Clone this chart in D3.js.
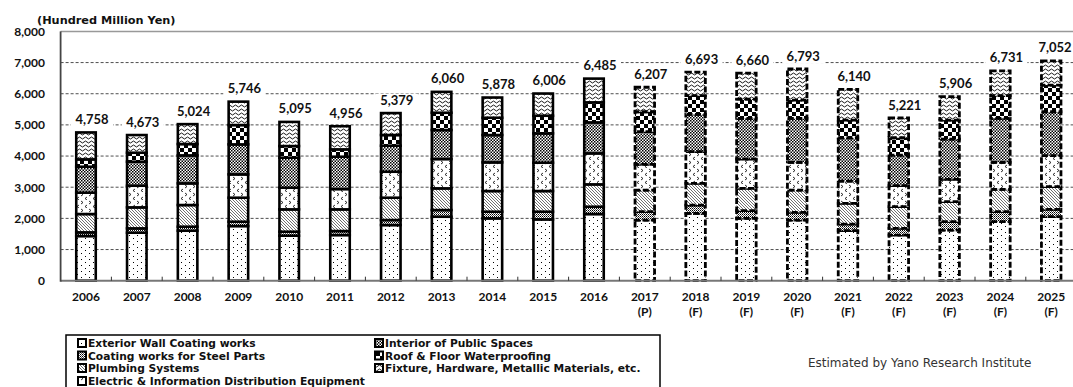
<!DOCTYPE html>
<html>
<head>
<meta charset="utf-8">
<script src="https://cdn.jsdelivr.net/npm/d3@7"></script>
<style>
  html, body { margin: 0; padding: 0; background: #fff; }
  svg { display: block; }
</style>
</head>
<body>
<svg id="chart" width="1073" height="387"></svg>
<script>
// ---- data ----
const years = ["2006","2007","2008","2009","2010","2011","2012","2013","2014","2015","2016","2017","2018","2019","2020","2021","2022","2023","2024","2025"];
const yearSuffix = ["","","","","","","","","","","","(P)","(F)","(F)","(F)","(F)","(F)","(F)","(F)","(F)"];
const seriesNames = [
  "Exterior Wall Coating works",
  "Coating works for Steel Parts",
  "Plumbing Systems",
  "Electric & Information Distribution Equipment",
  "Interior of Public Spaces",
  "Roof & Floor Waterproofing",
  "Fixture, Hardware, Metallic Materials, etc."
];
const exteriorWall = [1433,1540,1604,1754,1444,1465,1786,2053,2000,1968,2139,1947,2160,2000,1947,1604,1465,1626,1893,2053];
const steelParts   = [118,139,129,139,128,129,161,214,214,246,235,267,268,246,246,214,214,267,321,236];
const plumbing     = [588,674,695,770,717,695,716,696,663,663,717,695,695,717,716,663,695,642,716,727];
const electric     = [685,695,695,749,695,652,834,941,920,909,995,824,1016,941,888,717,674,716,867,995];
const interior     = [834,770,898,962,963,1038,835,930,877,941,994,1048,1198,1305,1412,1390,984,1294,1412,1411];
const roofFloor    = [235,289,364,621,374,235,342,556,556,567,642,641,599,620,588,567,556,610,727,856];
const fixture      = [865,567,639,751,774,742,705,670,648,712,763,785,757,831,996,985,633,751,795,774];
const totals       = [4758,4673,5024,5746,5095,4956,5379,6060,5878,6006,6485,6207,6693,6660,6793,6140,5221,5906,6731,7052];
const yTicks = [0,1000,2000,3000,4000,5000,6000,7000,8000];
const seriesValues = [exteriorWall, steelParts, plumbing, electric, interior, roofFloor, fixture];

// ---- setup ----
const svg = d3.select("#chart");
const W = 1073, H = 387;
const plot = {left: 60.6, right: 1076.6, top: 31.4, bottom: 280.7};
const NUMFONT = "Lato, 'Open Sans', 'DejaVu Sans', sans-serif";
const TXTFONT = "'DejaVu Sans', Verdana, sans-serif";

const x = d3.scaleBand().domain(years).range([plot.left, plot.right]).paddingInner(0.616).paddingOuter(0.308);
const y = d3.scaleLinear().domain([0, 8000]).range([plot.bottom, plot.top]);

// ---- patterns ----
const defs = svg.append("defs");
function pat(id, w, h, draw) {
  const p = defs.append("pattern").attr("id", id).attr("patternUnits", "userSpaceOnUse")
    .attr("width", w).attr("height", h);
  p.append("rect").attr("width", w).attr("height", h).attr("fill", "#fff");
  draw(p);
}
// 0: sparse dots
pat("p0", 8, 6, p => {
  p.append("rect").attr("x", 1).attr("y", 1).attr("width", 1).attr("height", 1).attr("fill", "#000");
  p.append("rect").attr("x", 5).attr("y", 4).attr("width", 1).attr("height", 1).attr("fill", "#000");
});
// 1: fine dense texture
pat("p1", 2, 2, p => {
  p.append("rect").attr("x", 0).attr("y", 0).attr("width", 1).attr("height", 1).attr("fill", "#000");
  p.append("rect").attr("x", 1).attr("y", 1).attr("width", 1).attr("height", 1).attr("fill", "#555");
});
// 2: diagonal hatch
pat("p2", 3, 3, p => {
  p.append("path").attr("d", "M-1,-1 L4,4 M-1,2 L1,4 M2,-1 L4,1").attr("stroke", "#222").attr("stroke-width", 0.65);
});
// 3: chevrons
pat("p3", 8, 8, p => {
  p.append("path").attr("d", "M1,1 L3,2.5 L1,4 M7,5 L5,6.5 L7,8").attr("stroke", "#000").attr("stroke-width", 0.8).attr("fill", "none");
});
// 4: small checker
pat("p4", 3, 3, p => {
  p.append("rect").attr("x", 0).attr("y", 0).attr("width", 1.5).attr("height", 1.5).attr("fill", "#000");
  p.append("rect").attr("x", 1.5).attr("y", 1.5).attr("width", 1.5).attr("height", 1.5).attr("fill", "#000");
});
// 5: big checker
pat("p5", 8, 8, p => {
  p.append("rect").attr("x", 0).attr("y", 0).attr("width", 4).attr("height", 4).attr("fill", "#000");
  p.append("rect").attr("x", 4).attr("y", 4).attr("width", 4).attr("height", 4).attr("fill", "#000");
});
// 6: waves
pat("p6", 6, 4, p => {
  p.append("path").attr("d", "M0,2 Q1.5,0 3,2 T6,2").attr("stroke", "#000").attr("stroke-width", 0.9).attr("fill", "none");
});

// ---- gridlines ----
svg.append("g").selectAll("line").data(yTicks.filter(d => d > 0 && d < 8000)).join("line")
  .attr("x1", plot.left).attr("x2", W)
  .attr("y1", d => y(d)).attr("y2", d => y(d))
  .attr("stroke", "#222").attr("stroke-width", 0.8).attr("stroke-dasharray", "3,2");

// top border
svg.append("line").attr("x1", plot.left).attr("x2", W).attr("y1", y(8000)).attr("y2", y(8000))
  .attr("stroke", "#999").attr("stroke-width", 1.5);

// ---- stacked bars ----
const table = years.map((yr, i) => {
  const o = {year: yr, idx: i};
  seriesNames.forEach((s, k) => o[s] = seriesValues[k][i]);
  return o;
});
const stack = d3.stack().keys(seriesNames)(table);
const barsG = svg.append("g");
stack.forEach((layer, k) => {
  barsG.append("g").selectAll("rect").data(layer).join("rect")
    .attr("x", d => x(d.data.year))
    .attr("width", x.bandwidth())
    .attr("y", d => y(d[1]))
    .attr("height", d => y(d[0]) - y(d[1]))
    .attr("fill", `url(#p${k})`)
    .attr("stroke", "#000")
    .attr("stroke-width", d => d.data.idx >= 11 ? 2.8 : 2.6)
    .attr("stroke-dasharray", d => d.data.idx >= 11 ? "6,2.5" : null);
});

// ---- axes ----
svg.append("line").attr("x1", plot.left).attr("x2", W).attr("y1", plot.bottom).attr("y2", plot.bottom)
  .attr("stroke", "#777").attr("stroke-width", 2);
svg.append("line").attr("x1", plot.left).attr("x2", plot.left).attr("y1", plot.top).attr("y2", plot.bottom + 1)
  .attr("stroke", "#444").attr("stroke-width", 1.8);
// tick marks at band boundaries
const step = x.step();
svg.append("g").selectAll("line").data(years.slice(1)).join("line")
  .attr("x1", d => x(d) - (step - x.bandwidth()) / 2).attr("x2", d => x(d) - (step - x.bandwidth()) / 2)
  .attr("y1", plot.bottom - 4).attr("y2", plot.bottom)
  .attr("stroke", "#333").attr("stroke-width", 1);

// y labels
const yAxis = svg.append("g").attr("transform", "translate(45,0)")
  .call(d3.axisLeft(y).tickValues(yTicks).tickFormat(d3.format(",")).tickSize(0).tickPadding(0));
yAxis.select(".domain").remove();
yAxis.selectAll("text").attr("font-family", NUMFONT).attr("font-weight", "bold").attr("font-size", 12).attr("fill", "#111");

// x labels
const xAxis = svg.append("g").attr("transform", `translate(0,${plot.bottom})`)
  .call(d3.axisBottom(x).tickSize(0).tickPadding(0));
xAxis.select(".domain").remove();
xAxis.selectAll("text").remove();
xAxis.selectAll(".tick").each(function(d, i) {
  const t = d3.select(this).append("text").attr("text-anchor", "middle")
    .attr("font-family", NUMFONT).attr("font-weight", "bold").attr("font-size", 12).attr("fill", "#111");
  t.append("tspan").attr("x", 0).attr("y", 20).text(d);
  if (yearSuffix[i]) t.append("tspan").attr("x", 0).attr("y", 35).text(yearSuffix[i]);
});

// ---- total labels ----
const fmt = d3.format(",");
const lab = svg.append("g");
totals.forEach((v, i) => {
  let cx = x(years[i]) + x.bandwidth() / 2 + 6;
  cx = Math.min(cx, W - 18);
  const by = y(v) - 8.5;
  lab.append("rect").attr("x", cx - 21).attr("y", by - 11).attr("width", 42).attr("height", 14).attr("fill", "#fff");
  lab.append("text").attr("x", cx).attr("y", by).attr("text-anchor", "middle")
    .attr("font-family", NUMFONT).attr("font-weight", "bold").attr("font-size", 13).attr("fill", "#111")
    .text(fmt(v));
});

// y title
svg.append("text").attr("x", 37).attr("y", 24).attr("font-family", TXTFONT).attr("font-weight", "bold")
  .attr("font-size", 11.3).attr("fill", "#111").text("(Hundred Million Yen)");

// ---- legend ----
const lg = svg.append("g");
lg.append("rect").attr("x", 66).attr("y", 335).attr("width", 594).attr("height", 70)
  .attr("fill", "#fff").attr("stroke", "#000").attr("stroke-width", 1.5);
const legPos = [
  [78, 343], [78, 355.5], [78, 368], [78, 381],
  [375, 343], [375, 355.5], [375, 368]
];
seriesNames.forEach((s, k) => {
  const [lx, ly] = legPos[k];
  lg.append("rect").attr("x", lx).attr("y", ly - 4).attr("width", 8).attr("height", 8)
    .attr("fill", `url(#p${k})`).attr("stroke", "#000").attr("stroke-width", 2);
  lg.append("text").attr("x", lx + 10).attr("y", ly + 4).attr("font-family", TXTFONT).attr("font-weight", "bold")
    .attr("font-size", 10.7).attr("fill", "#111").text(s);
});

// source
svg.append("text").attr("x", 808).attr("y", 367).attr("font-family", TXTFONT)
  .attr("font-size", 12).attr("fill", "#333").text("Estimated by Yano Research Institute");
</script>
</body>
</html>
